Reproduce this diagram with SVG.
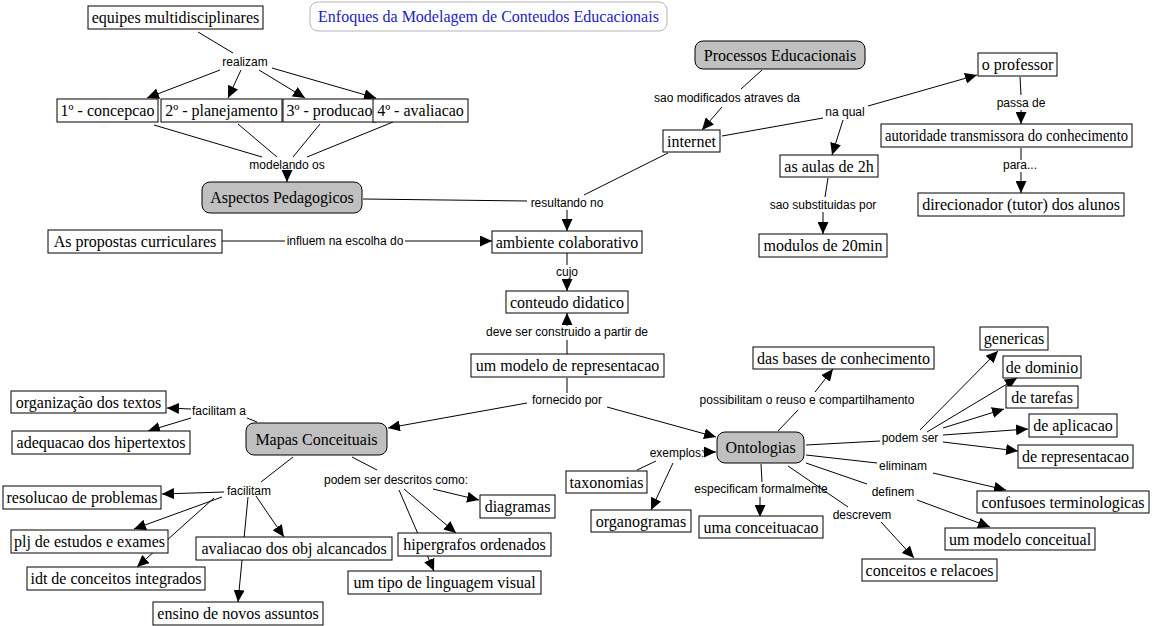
<svg xmlns="http://www.w3.org/2000/svg" width="1160" height="626" viewBox="0 0 1160 626">
<style>
.bg{fill:#fff}
.n rect{fill:#fff;stroke:#000;stroke-width:1}
.g rect{fill:#c0c0c0;stroke:#000;stroke-width:1}
.n text,.g text{font-family:"Liberation Serif","Times New Roman",serif;font-size:16px;text-anchor:middle;fill:#000}
.ttl rect{fill:#fff;stroke:#b4b4b4;stroke-width:1}
.ttl text{font-family:"Liberation Serif","Times New Roman",serif;font-size:16px;text-anchor:middle;fill:#1c1cc0}
.lk text{font-family:"Liberation Sans",Arial,sans-serif;font-size:12px;text-anchor:middle;fill:#000}
#connectors line{stroke:#000;stroke-width:1}
#connectors .a{marker-end:url(#ah)}
</style>
<defs>
<marker id="ah" markerWidth="12" markerHeight="11" refX="12" refY="5.5" orient="auto" markerUnits="userSpaceOnUse"><path d="M0,0L12,5.5L0,11z" fill="#000"/></marker>
</defs>
<rect class="bg" x="0" y="0" width="1160" height="626"/>
<g id="connectors">
<line x1="198" y1="32" x2="233" y2="53"/>
<line x1="154" y1="125" x2="262" y2="157"/>
<line x1="238" y1="124" x2="277" y2="157"/>
<line x1="320" y1="124" x2="293" y2="157"/>
<line x1="393" y1="122" x2="307" y2="157"/>
<line x1="363" y1="199" x2="527" y2="201"/>
<line x1="762" y1="70" x2="741" y2="89"/>
<line x1="668" y1="153" x2="584" y2="195"/>
<line x1="722" y1="136" x2="823" y2="118"/>
<line x1="1020" y1="77" x2="1021" y2="95"/>
<line x1="1021" y1="148" x2="1021" y2="160"/>
<line x1="828" y1="178" x2="825" y2="197"/>
<line x1="222" y1="241" x2="285" y2="241"/>
<line x1="567" y1="253" x2="567" y2="265"/>
<line x1="567" y1="354" x2="567" y2="340"/>
<line x1="567" y1="378" x2="567" y2="393"/>
<line x1="257" y1="422" x2="247" y2="418"/>
<line x1="293" y1="457" x2="261" y2="482"/>
<line x1="352" y1="457" x2="377" y2="470"/>
<line x1="778" y1="431" x2="798" y2="410"/>
<line x1="637" y1="470" x2="656" y2="461"/>
<line x1="806" y1="445" x2="880" y2="441"/>
<line x1="806" y1="455" x2="877" y2="463"/>
<line x1="806" y1="463" x2="867" y2="484"/>
<line x1="788" y1="466" x2="848" y2="507"/>
<line x1="761" y1="464" x2="762" y2="482"/>
<line class="a" x1="220" y1="70" x2="147" y2="98"/>
<line class="a" x1="241" y1="70" x2="228" y2="98"/>
<line class="a" x1="259" y1="70" x2="305" y2="98"/>
<line class="a" x1="272" y1="68" x2="376" y2="98"/>
<line class="a" x1="287" y1="170" x2="287" y2="182"/>
<line class="a" x1="722" y1="107" x2="702" y2="130"/>
<line class="a" x1="868" y1="106" x2="977" y2="75"/>
<line class="a" x1="843" y1="120" x2="832" y2="155"/>
<line class="a" x1="1021" y1="110" x2="1021" y2="124"/>
<line class="a" x1="1021" y1="172" x2="1021" y2="193"/>
<line class="a" x1="823" y1="212" x2="823" y2="234"/>
<line class="a" x1="567" y1="210" x2="567" y2="231"/>
<line class="a" x1="405" y1="241" x2="492" y2="241"/>
<line class="a" x1="567" y1="279" x2="567" y2="291"/>
<line class="a" x1="567" y1="326" x2="567" y2="313"/>
<line class="a" x1="527" y1="403" x2="388" y2="428"/>
<line class="a" x1="607" y1="407" x2="716" y2="437"/>
<line class="a" x1="191" y1="409" x2="167" y2="408"/>
<line class="a" x1="191" y1="418" x2="148" y2="431"/>
<line class="a" x1="224" y1="492" x2="162" y2="494"/>
<line class="a" x1="222" y1="497" x2="134" y2="529"/>
<line class="a" x1="214" y1="498" x2="137" y2="567"/>
<line class="a" x1="256" y1="496" x2="284" y2="537"/>
<line class="a" x1="248" y1="497" x2="238" y2="602"/>
<line class="a" x1="433" y1="489" x2="479" y2="500"/>
<line class="a" x1="404" y1="489" x2="456" y2="533"/>
<line class="a" x1="399" y1="490" x2="434" y2="571"/>
<line class="a" x1="815" y1="392" x2="833" y2="369"/>
<line class="a" x1="703" y1="452" x2="716" y2="452"/>
<line class="a" x1="673" y1="463" x2="651" y2="510"/>
<line class="a" x1="760" y1="497" x2="760" y2="517"/>
<line class="a" x1="881" y1="522" x2="914" y2="558"/>
<line class="a" x1="917" y1="500" x2="990" y2="527"/>
<line class="a" x1="933" y1="473" x2="1006" y2="490"/>
<line class="a" x1="920" y1="430" x2="998" y2="351"/>
<line class="a" x1="927" y1="432" x2="1017" y2="378"/>
<line class="a" x1="943" y1="428" x2="1004" y2="409"/>
<line class="a" x1="943" y1="435" x2="1028" y2="429"/>
<line class="a" x1="943" y1="442" x2="1018" y2="451"/>
</g>
<g id="linking-phrases" class="lk">
<g id="lk-realizam"><text x="245" y="66">realizam</text></g>
<g id="lk-modelando"><text x="287" y="169">modelando os</text></g>
<g id="lk-saomod"><text x="727" y="102">sao modificados atraves da</text></g>
<g id="lk-naqual"><text x="845" y="116">na qual</text></g>
<g id="lk-passade"><text x="1021" y="107">passa de</text></g>
<g id="lk-para"><text x="1020" y="169">para...</text></g>
<g id="lk-saosub"><text x="823" y="209">sao substituidas por</text></g>
<g id="lk-resultando"><text x="567" y="207">resultando no</text></g>
<g id="lk-influem"><text x="345" y="245">influem na escolha do</text></g>
<g id="lk-cujo"><text x="567" y="276">cujo</text></g>
<g id="lk-deveser"><text x="567" y="336">deve ser construido a partir de</text></g>
<g id="lk-fornecido"><text x="567" y="404">fornecido por</text></g>
<g id="lk-facilitama"><text x="219" y="415">facilitam a</text></g>
<g id="lk-facilitam"><text x="249" y="495">facilitam</text></g>
<g id="lk-podemdesc"><text x="396" y="484">podem ser descritos como:</text></g>
<g id="lk-possibilitam"><text x="807" y="404">possibilitam o reuso e  compartilhamento</text></g>
<g id="lk-exemplos"><text x="677" y="457">exemplos:</text></g>
<g id="lk-especificam"><text x="761" y="493">especificam formalmente</text></g>
<g id="lk-descrevem"><text x="862" y="519">descrevem</text></g>
<g id="lk-definem"><text x="893" y="496">definem</text></g>
<g id="lk-eliminam"><text x="903" y="470">eliminam</text></g>
<g id="lk-podemser"><text x="910" y="442">podem ser</text></g>
</g>
<g id="title" class="ttl"><rect x="310" y="2" width="357" height="29" rx="8"/><text x="488.5" y="21.5">Enfoques da Modelagem de Conteudos Educacionais</text></g>
<g id="n-equipes" class="n"><rect x="88" y="6" width="175" height="23"/><text x="175.5" y="23">equipes multidisciplinares</text></g>
<g id="n-concepcao" class="n"><rect x="57" y="99" width="101" height="23"/><text x="107.5" y="116">1º - concepcao</text></g>
<g id="n-planejamento" class="n"><rect x="161" y="99" width="121" height="23"/><text x="221.5" y="116">2º - planejamento</text></g>
<g id="n-producao" class="n"><rect x="283" y="99" width="93" height="23"/><text x="329.5" y="116">3º - producao</text></g>
<g id="n-avaliacao4" class="n"><rect x="373" y="99" width="95" height="23"/><text x="420.5" y="116">4º - avaliacao</text></g>
<g id="n-aspectos" class="g"><rect x="202" y="182" width="160" height="31" rx="8"/><text x="282" y="203">Aspectos Pedagogicos</text></g>
<g id="n-processos" class="g"><rect x="695" y="41" width="170" height="28" rx="8"/><text x="780" y="60.5">Processos Educacionais</text></g>
<g id="n-internet" class="n"><rect x="663" y="130" width="57" height="22"/><text x="691.5" y="146.5">internet</text></g>
<g id="n-professor" class="n"><rect x="978" y="53" width="79" height="23"/><text x="1017.5" y="70">o professor</text></g>
<g id="n-autoridade" class="n"><rect x="881" y="124" width="251" height="23"/><text x="1006.5" y="141" textLength="243" lengthAdjust="spacingAndGlyphs">autoridade transmissora do conhecimento</text></g>
<g id="n-direcionador" class="n"><rect x="918" y="193" width="206" height="23"/><text x="1021" y="210">direcionador (tutor) dos alunos</text></g>
<g id="n-aulas" class="n"><rect x="780" y="155" width="98" height="22"/><text x="829" y="171.5">as aulas de 2h</text></g>
<g id="n-modulos" class="n"><rect x="759" y="234" width="128" height="23"/><text x="823" y="251">modulos de 20min</text></g>
<g id="n-propostas" class="n"><rect x="48" y="230" width="174" height="23"/><text x="135" y="247">As propostas curriculares</text></g>
<g id="n-ambiente" class="n"><rect x="492" y="231" width="150" height="22"/><text x="567" y="247.5">ambiente colaborativo</text></g>
<g id="n-conteudo" class="n"><rect x="506" y="291" width="122" height="22"/><text x="567" y="307.5">conteudo didatico</text></g>
<g id="n-modelo" class="n"><rect x="471" y="354" width="193" height="23"/><text x="567.5" y="371">um modelo de representacao</text></g>
<g id="n-mapas" class="g"><rect x="246" y="423" width="141" height="32" rx="8"/><text x="316.5" y="444.5">Mapas Conceituais</text></g>
<g id="n-organizacao" class="n"><rect x="11" y="391" width="155" height="22"/><text x="88.5" y="407.5">organização dos textos</text></g>
<g id="n-adequacao" class="n"><rect x="12" y="431" width="178" height="23"/><text x="101" y="448">adequacao dos hipertextos</text></g>
<g id="n-resolucao" class="n"><rect x="3" y="486" width="158" height="23"/><text x="82" y="503">resolucao de problemas</text></g>
<g id="n-plj" class="n"><rect x="11" y="530" width="157" height="23"/><text x="89.5" y="547">plj de estudos e exames</text></g>
<g id="n-idt" class="n"><rect x="27" y="567" width="178" height="23"/><text x="116" y="584">idt de conceitos integrados</text></g>
<g id="n-avaliacaoobj" class="n"><rect x="196" y="537" width="196" height="23"/><text x="294" y="554">avaliacao dos obj alcancados</text></g>
<g id="n-ensino" class="n"><rect x="153" y="602" width="170" height="23"/><text x="238" y="619">ensino de novos assuntos</text></g>
<g id="n-diagramas" class="n"><rect x="480" y="495" width="75" height="23"/><text x="517.5" y="512">diagramas</text></g>
<g id="n-hipergrafos" class="n"><rect x="398" y="533" width="153" height="23"/><text x="474.5" y="550">hipergrafos ordenados</text></g>
<g id="n-tipo" class="n"><rect x="348" y="571" width="193" height="23"/><text x="444.5" y="588">um tipo de linguagem visual</text></g>
<g id="n-ontologias" class="g"><rect x="717" y="432" width="87" height="31" rx="8"/><text x="760.5" y="453">Ontologias</text></g>
<g id="n-bases" class="n"><rect x="753" y="347" width="181" height="22"/><text x="843.5" y="363.5">das bases de conhecimento</text></g>
<g id="n-taxonomias" class="n"><rect x="566" y="471" width="81" height="22"/><text x="606.5" y="487.5">taxonomias</text></g>
<g id="n-organogramas" class="n"><rect x="591" y="510" width="100" height="22"/><text x="641" y="526.5">organogramas</text></g>
<g id="n-conceituacao" class="n"><rect x="699" y="516" width="124" height="22"/><text x="761" y="532.5">uma conceituacao</text></g>
<g id="n-conceitos" class="n"><rect x="862" y="559" width="135" height="22"/><text x="929.5" y="575.5">conceitos e relacoes</text></g>
<g id="n-modeloconc" class="n"><rect x="945" y="528" width="150" height="22"/><text x="1020" y="544.5">um modelo conceitual</text></g>
<g id="n-confusoes" class="n"><rect x="977" y="491" width="172" height="22"/><text x="1063" y="507.5">confusoes terminologicas</text></g>
<g id="n-genericas" class="n"><rect x="980" y="327" width="68" height="23"/><text x="1014" y="344">genericas</text></g>
<g id="n-dominio" class="n"><rect x="1003" y="356" width="78" height="22"/><text x="1042" y="372.5">de dominio</text></g>
<g id="n-tarefas" class="n"><rect x="1006" y="386" width="72" height="22"/><text x="1042" y="402.5">de tarefas</text></g>
<g id="n-aplicacao" class="n"><rect x="1029" y="414" width="88" height="23"/><text x="1073" y="431">de aplicacao</text></g>
<g id="n-representacao" class="n"><rect x="1018" y="445" width="115" height="23"/><text x="1075.5" y="462">de representacao</text></g>
</svg>
